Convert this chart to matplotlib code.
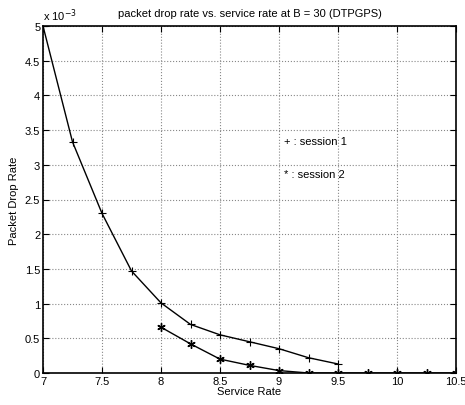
import matplotlib
matplotlib.use("Agg")
import matplotlib.pyplot as plt

# service rate values
rate1 = [7, 7.25, 7.5, 7.75, 8, 8.25, 8.5, 8.75, 9, 9.25, 9.5]
drop1 = [5.0, 3.33, 2.30, 1.47, 1.01, 0.70, 0.55, 0.45, 0.35, 0.22, 0.13]

rate2 = [8, 8.25, 8.5, 8.75, 9, 9.25, 9.5, 9.75, 10, 10.25, 10.5]
drop2 = [0.66, 0.42, 0.20, 0.11, 0.035, 0, 0, 0, 0, 0, 0]

scale = 1e-3

plt.rcParams['font.family'] = ['Liberation Sans', 'DejaVu Sans']
fig = plt.figure(figsize=(4.65, 4.06), dpi=100)
ax = fig.add_axes([43/465, 32/406, 413/465, 347/406])

ax.plot(rate1, [v * scale for v in drop1], color='black', lw=1,
        marker='+', ms=6, mew=0.8)
ax.plot(rate2, [v * scale for v in drop2], color='black', lw=1,
        marker=(6, 2, 0), ms=6, mew=1.0)

ax.text(9.04, 3.35e-3, '+ : session 1', fontsize=8, va='center')
ax.text(9.04, 2.87e-3, '* : session 2', fontsize=8, va='center')

ax.set_xlim(7, 10.5)
ax.set_ylim(0, 5e-3)
ax.set_xticks([7, 7.5, 8, 8.5, 9, 9.5, 10, 10.5])
ax.set_xticklabels(['7', '7.5', '8', '8.5', '9', '9.5', '10', '10.5'])
yt = [0, 0.5, 1, 1.5, 2, 2.5, 3, 3.5, 4, 4.5, 5]
ax.set_yticks([v * scale for v in yt])
ax.set_yticklabels(['0', '0.5', '1', '1.5', '2', '2.5', '3', '3.5', '4', '4.5', '5'])
ax.text(0.0, 1.01, r'x 10$^{-3}$', transform=ax.transAxes, fontsize=8,
        va='bottom', ha='left')

ax.grid(True, linestyle=':', color='#888888', lw=0.8)
ax.tick_params(direction='in', top=True, right=True, labelsize=8, pad=2, length=4)
for s in ax.spines.values():
    s.set_linewidth(1.2)

ax.set_title('packet drop rate vs. service rate at B = 30 (DTPGPS)', fontsize=8, pad=7)
ax.set_xlabel('Service Rate', fontsize=8, labelpad=0)
ax.set_ylabel('Packet Drop Rate', fontsize=8, labelpad=4)

fig.savefig('out.png', dpi=100)
